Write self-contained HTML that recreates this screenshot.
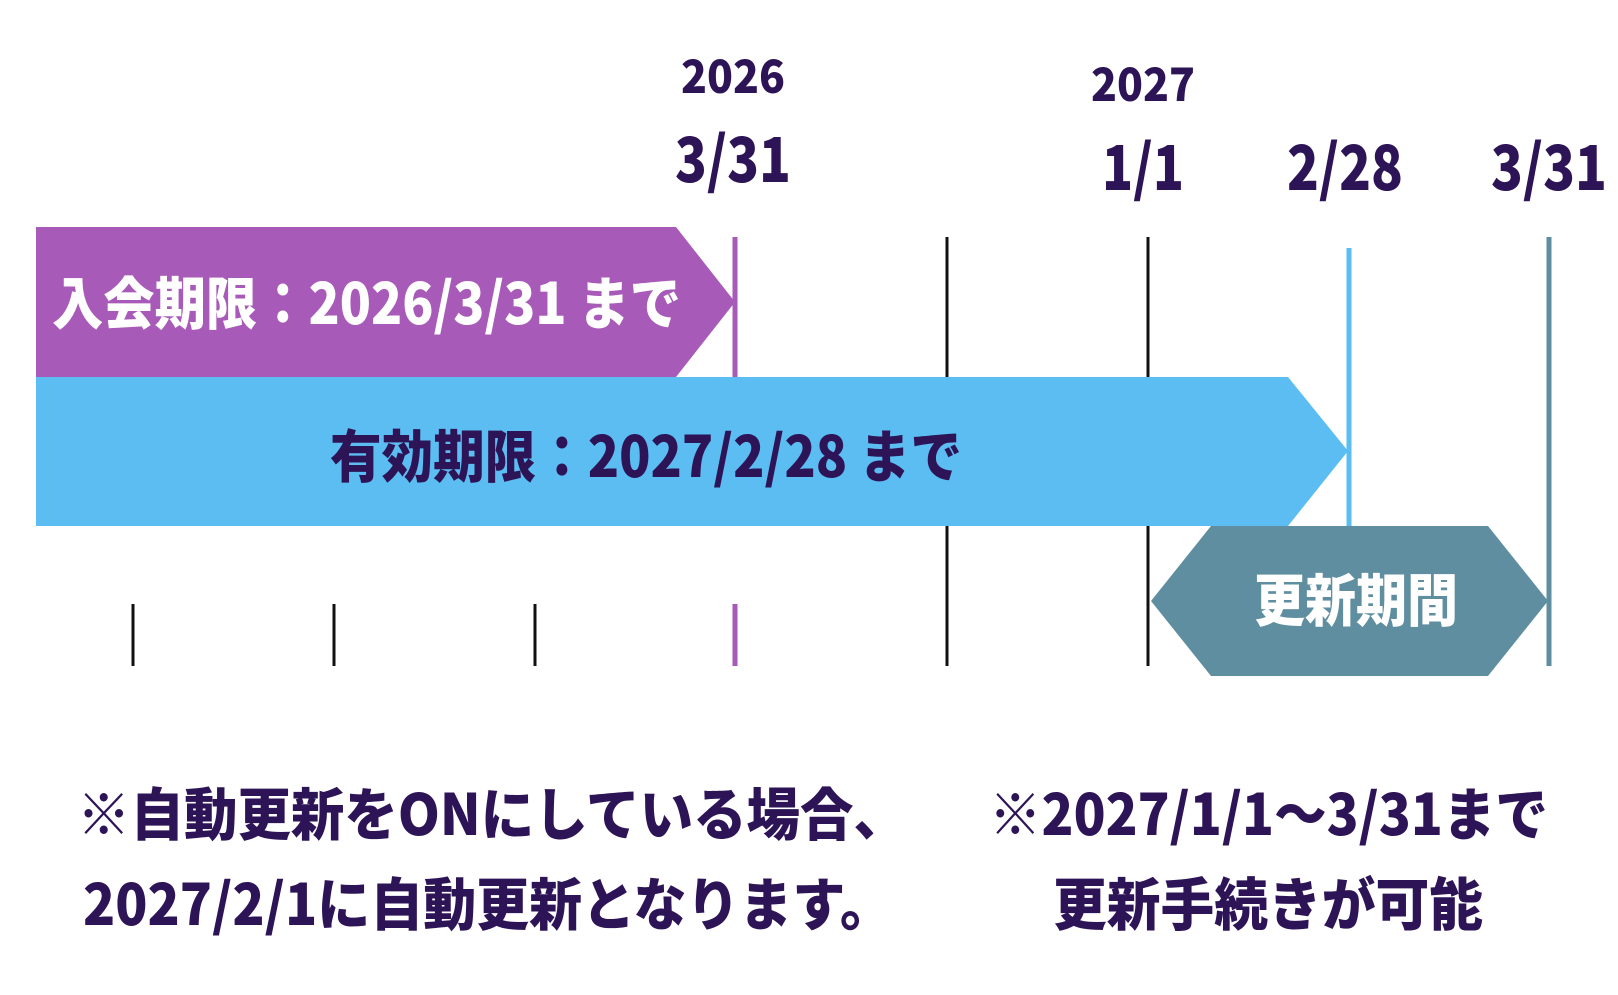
<!DOCTYPE html>
<html><head><meta charset="utf-8"><style>html,body{margin:0;padding:0;background:#fff}svg{display:block}</style></head>
<body>
<svg width="1618" height="995" viewBox="0 0 1618 995" xmlns="http://www.w3.org/2000/svg" font-family="'Noto Sans CJK JP','Liberation Sans',sans-serif" font-weight="700">
<g stroke="#111" stroke-width="3">
<line x1="133" y1="604" x2="133" y2="666"/>
<line x1="334" y1="604" x2="334" y2="666"/>
<line x1="535" y1="604" x2="535" y2="666"/>
<line x1="947" y1="237" x2="947" y2="666"/>
<line x1="1148" y1="237" x2="1148" y2="666"/>
</g>
<line x1="735" y1="237" x2="735" y2="377" stroke="#a85ab8" stroke-width="5"/>
<line x1="735" y1="604" x2="735" y2="666" stroke="#a85ab8" stroke-width="5"/>
<line x1="1349" y1="248" x2="1349" y2="526" stroke="#5bbdf2" stroke-width="5"/>
<line x1="1549" y1="237" x2="1549" y2="666" stroke="#5f8ea0" stroke-width="5"/>
<polygon points="36,227 676,227 735,302 676,377 36,377" fill="#a85ab8"/>
<polygon points="36,377 1288,377 1348,451 1288,526 36,526" fill="#5bbdf2"/>
<polygon points="1151,601 1211,526 1488,526 1548,601 1488,676 1211,676" fill="#5f8ea0"/>
<text x="52" y="324" font-size="57" font-weight="900" fill="#fff" textLength="629" lengthAdjust="spacingAndGlyphs">入会期限：2026/3/31 まで</text>
<text x="330" y="477" font-size="57" font-weight="900" fill="#2d1457" textLength="632" lengthAdjust="spacingAndGlyphs">有効期限：2027/2/28 まで</text>
<text x="1254" y="621" font-size="57" font-weight="900" fill="#fff" textLength="204" lengthAdjust="spacingAndGlyphs">更新期間</text>
<g fill="#2d1457" text-anchor="middle" font-weight="900">
<text x="733" y="93" font-size="46" textLength="104" lengthAdjust="spacingAndGlyphs">2026</text>
<text x="733" y="182" font-size="62" textLength="116" lengthAdjust="spacingAndGlyphs">3/31</text>
<text x="1143" y="101" font-size="46" textLength="104" lengthAdjust="spacingAndGlyphs">2027</text>
<text x="1143" y="190" font-size="62" textLength="82" lengthAdjust="spacingAndGlyphs">1/1</text>
<text x="1345" y="190" font-size="62" textLength="116" lengthAdjust="spacingAndGlyphs">2/28</text>
<text x="1549" y="190" font-size="62" textLength="116" lengthAdjust="spacingAndGlyphs">3/31</text>
</g>
<g fill="#2d1457" font-size="57" font-weight="900">
<text x="77" y="835" textLength="830" lengthAdjust="spacingAndGlyphs">※自動更新をONにしている場合、</text>
<text x="83" y="925" textLength="810" lengthAdjust="spacingAndGlyphs">2027/2/1に自動更新となります。</text>
<text x="989" y="835" textLength="559" lengthAdjust="spacingAndGlyphs">※2027/1/1～3/31まで</text>
<text x="1053" y="925" textLength="430" lengthAdjust="spacingAndGlyphs">更新手続きが可能</text>
</g>
</svg>
</body></html>
